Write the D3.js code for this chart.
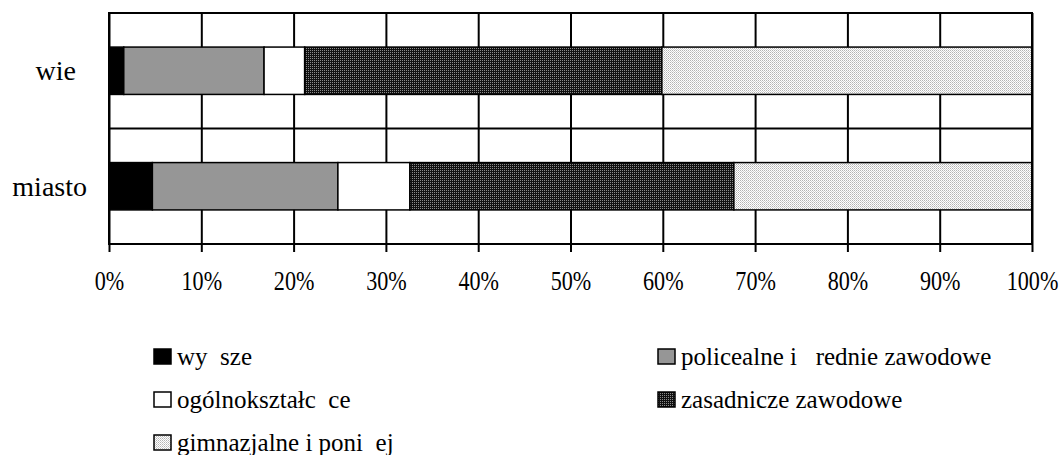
<!DOCTYPE html>
<html>
<head>
<meta charset="utf-8">
<script src="https://cdn.jsdelivr.net/npm/d3@7"></script>
<style>
  html, body { margin: 0; padding: 0; background: #fff; }
  svg text { font-family: 'Liberation Serif', 'Times New Roman', Times, serif !important; fill: #000; white-space: pre; }
</style>
</head>
<body>
<script>
// categories (top to bottom) and segments (left to right), values in %
const categories = ["wie", "miasto"];
const series = ["wy  sze", "policealne i   rednie zawodowe", "ogólnokształc  ce", "zasadnicze zawodowe", "gimnazjalne i poni  ej"];
const wieValues    = [1.6, 15.2, 4.4, 38.7, 40.1];
const miastoValues = [4.7, 20.1, 7.8, 35.1, 32.3];
const xTicks = [0, 10, 20, 30, 40, 50, 60, 70, 80, 90, 100];

const width = 1061, height = 455;
const plotL = 109, plotR = 1032, plotT = 13, plotB = 244;

const svg = d3.select('body').append('svg')
    .attr('width', width)
    .attr('height', height);

// fill patterns
const defs = svg.append('defs');
const dark = defs.append('pattern').attr('id', 'dark')
    .attr('width', 2).attr('height', 2).attr('patternUnits', 'userSpaceOnUse');
dark.append('rect').attr('width', 2).attr('height', 2).attr('fill', '#111');
dark.append('rect').attr('width', 1).attr('height', 1).attr('fill', '#8a8a8a');
const light = defs.append('pattern').attr('id', 'light')
    .attr('width', 2).attr('height', 2).attr('patternUnits', 'userSpaceOnUse');
light.append('rect').attr('width', 2).attr('height', 2).attr('fill', '#fff');
light.append('rect').attr('width', 1).attr('height', 1).attr('fill', '#b4b4b4');
light.append('rect').attr('x', 1).attr('y', 1).attr('width', 1).attr('height', 1).attr('fill', '#d0d0d0');

const fills = ['#000', '#969696', '#fff', 'url(#dark)', 'url(#light)'];

const X = d3.scaleLinear().domain([0, 100]).range([plotL, plotR]);
const Y = d3.scaleBand().domain(categories).range([plotT, plotB]);
const barH = Y.bandwidth() * 0.41;

const rows = categories.map((c, i) => {
    const vals = i === 0 ? wieValues : miastoValues;
    let acc = 0;
    return vals.map((v, j) => {
        const s = { cat: c, idx: j, x0: acc, x1: acc + v };
        acc += v;
        return s;
    });
});

// vertical gridlines + bottom ticks
const xAxis = d3.axisBottom(X)
    .tickValues(xTicks)
    .tickSize(8)
    .tickFormat(d => d + '%');

svg.append('g')
    .attr('transform', `translate(0 ${plotB})`)
    .call(xAxis)
    .attr('font-family', null)
    .call(g => g.select('.domain').remove())
    .call(g => g.selectAll('.tick line')
        .attr('stroke', '#000').attr('stroke-width', 2))
    .call(g => g.selectAll('.tick line').clone()
        .attr('y2', -(plotB - plotT)))
    .call(g => g.selectAll('.tick text')
        .attr('y', 46)
        .attr('dy', 0)
        .attr('transform', 'scale(0.82 1)')
        .style('font-size', '27px'));

// horizontal line between categories
svg.append('line')
    .attr('x1', plotL).attr('x2', plotR)
    .attr('y1', Y(categories[1])).attr('y2', Y(categories[1]))
    .attr('stroke', '#000').attr('stroke-width', 2);

// bars
svg.append('g').selectAll('g')
    .data(rows)
    .join('g')
    .selectAll('rect')
    .data(d => d)
    .join('rect')
    .attr('x', d => X(d.x0))
    .attr('width', d => X(d.x1) - X(d.x0))
    .attr('y', d => Y(d.cat) + (Y.bandwidth() - barH) / 2)
    .attr('height', barH)
    .attr('fill', d => fills[d.idx])
    .attr('stroke', '#000')
    .attr('stroke-width', 1.5);

// plot frame
svg.append('rect')
    .attr('x', plotL).attr('y', plotT)
    .attr('width', plotR - plotL).attr('height', plotB - plotT)
    .attr('fill', 'none')
    .attr('stroke', '#000')
    .attr('stroke-width', 2);

// category labels
svg.append('g').selectAll('text')
    .data(categories)
    .join('text')
    .attr('x', 87)
    .attr('dx', d => d === 'wie' ? -11 : 0)
    .attr('y', d => Y(d) + Y.bandwidth() / 2 + 9.5)
    .attr('text-anchor', 'end')
    .style('font-size', '28px')
    .text(d => d);

// legend
const legendPos = [[154, 356], [658, 356], [154, 399], [658, 399], [154, 442]];
const legend = svg.append('g').selectAll('g')
    .data(series)
    .join('g')
    .attr('transform', (d, i) => `translate(${legendPos[i][0]} ${legendPos[i][1]})`);

legend.append('rect')
    .attr('x', 0).attr('y', -7)
    .attr('width', 17).attr('height', 15)
    .attr('fill', (d, i) => fills[i])
    .attr('stroke', '#000')
    .attr('stroke-width', 1.5);

legend.append('text')
    .attr('x', 23)
    .attr('y', 9)
    .style('font-size', '25px')
    .text(d => d);
</script>
</body>
</html>
